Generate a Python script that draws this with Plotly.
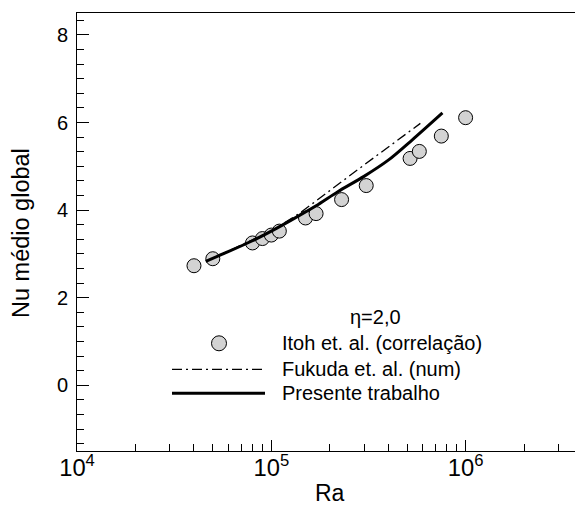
import plotly.graph_objects as go

# ---- data ----
itoh_ra = [40000, 50000, 80000, 90000, 100000, 110000, 150000, 170000,
           230000, 308000, 518000, 578000, 750000, 1000000]
itoh_nu = [2.73, 2.89, 3.25, 3.35, 3.43, 3.52, 3.82, 3.92,
           4.24, 4.56, 5.18, 5.34, 5.69, 6.11]

fukuda_ra = [50000, 80000, 100000, 140000, 200000, 300000, 585000]
fukuda_nu = [2.90, 3.31, 3.52, 3.93, 4.45, 5.03, 5.98]

presente_ra = [46000, 60000, 80000, 100000, 130000, 170000, 220000,
               300000, 400000, 530000, 760000]
presente_nu = [2.83, 3.05, 3.30, 3.52, 3.80, 4.10, 4.42, 4.77, 5.14, 5.60, 6.22]

legend_title = "η=2,0"
legend_labels = ["Itoh et. al. (correlação)", "Fukuda et. al. (num)", "Presente trabalho"]

FONT = "Liberation Sans, Arial, sans-serif"
W, H = 575, 505
L, R, T, B = 77, 0, 13, 54
PW, PH = W - L - R, H - T - B


def px(x):
    return (x - L) / PW


def py(y):
    return (H - B - y) / PH


fig = go.Figure()
fig.add_trace(go.Scatter(
    x=itoh_ra, y=itoh_nu, mode="markers", name=legend_labels[0],
    marker=dict(size=14, color="#d3d3d3", line=dict(color="black", width=1)),
))
fig.add_trace(go.Scatter(
    x=fukuda_ra, y=fukuda_nu, mode="lines", name=legend_labels[1],
    line=dict(color="black", width=1.3, dash="10px,4px,2px,4px"),
))
fig.add_trace(go.Scatter(
    x=presente_ra, y=presente_nu, mode="lines", name=legend_labels[2],
    line=dict(color="black", width=3, shape="spline", smoothing=0.8),
))

shapes = [
    dict(type="circle", xref="paper", yref="paper",
         x0=px(211.5), x1=px(226.5), y0=py(350.8), y1=py(335.8),
         fillcolor="#d3d3d3", line=dict(color="black", width=1)),
    dict(type="line", xref="paper", yref="paper",
         x0=px(172), x1=px(265), y0=py(369.3), y1=py(369.3),
         line=dict(color="black", width=1.3, dash="10px,4px,2px,4px")),
    dict(type="line", xref="paper", yref="paper",
         x0=px(172), x1=px(265), y0=py(393.3), y1=py(393.3),
         line=dict(color="black", width=3)),
]

ann = [
    dict(text=legend_title, x=px(375), y=py(316.7), xanchor="center", yanchor="middle"),
    dict(text=legend_labels[0], x=px(280), y=py(343.3), xanchor="left", yanchor="middle"),
    dict(text=legend_labels[1], x=px(280), y=py(369.3), xanchor="left", yanchor="middle"),
    dict(text=legend_labels[2], x=px(280), y=py(393.3), xanchor="left", yanchor="middle"),
    dict(text="Nu médio global", x=px(21), y=py(233), textangle=-90,
         xanchor="center", yanchor="middle", font=dict(size=23.5)),
    dict(text="Ra", x=px(330), y=py(493), xanchor="center", yanchor="middle",
         font=dict(size=23)),
]
for a in ann:
    a.update(xref="paper", yref="paper", showarrow=False)
    a.setdefault("font", dict(size=20))
    a["font"] = dict(family=FONT, color="black", **a["font"])

fig.update_layout(
    width=W, height=H,
    margin=dict(l=L, r=R, t=T, b=B, pad=0),
    paper_bgcolor="white", plot_bgcolor="white",
    showlegend=False,
    font=dict(family=FONT, size=20, color="black"),
    shapes=shapes, annotations=ann,
)
fig.update_xaxes(
    type="log", range=[4, 4 + PW / 194.3],
    showline=True, linecolor="black", linewidth=1, mirror=True,
    ticks="inside", ticklen=11, tickwidth=1, tickcolor="black",
    dtick=1, exponentformat="power", showexponent="all",
    minor=dict(ticks="inside", ticklen=7, tickwidth=1, tickcolor="black", dtick="D1"),
    showgrid=False, zeroline=False,
    ticklabelstandoff=-4,
    tickfont=dict(family=FONT, size=19, color="black"),
)
fig.update_yaxes(
    range=[-1.5, 8.5],
    showline=True, linecolor="black", linewidth=1, mirror=False,
    ticks="inside", ticklen=12, tickwidth=1, tickcolor="black",
    tick0=0, dtick=2,
    minor=dict(ticks="inside", ticklen=7, tickwidth=1, tickcolor="black",
               tick0=0, dtick=1 / 3),
    showgrid=False, zeroline=False,
    ticklabelstandoff=4,
    tickfont=dict(family=FONT, size=20, color="black"),
)

fig.write_html("out.html", config={"displayModeBar": False},
               post_script="document.body.style.margin='0';")
